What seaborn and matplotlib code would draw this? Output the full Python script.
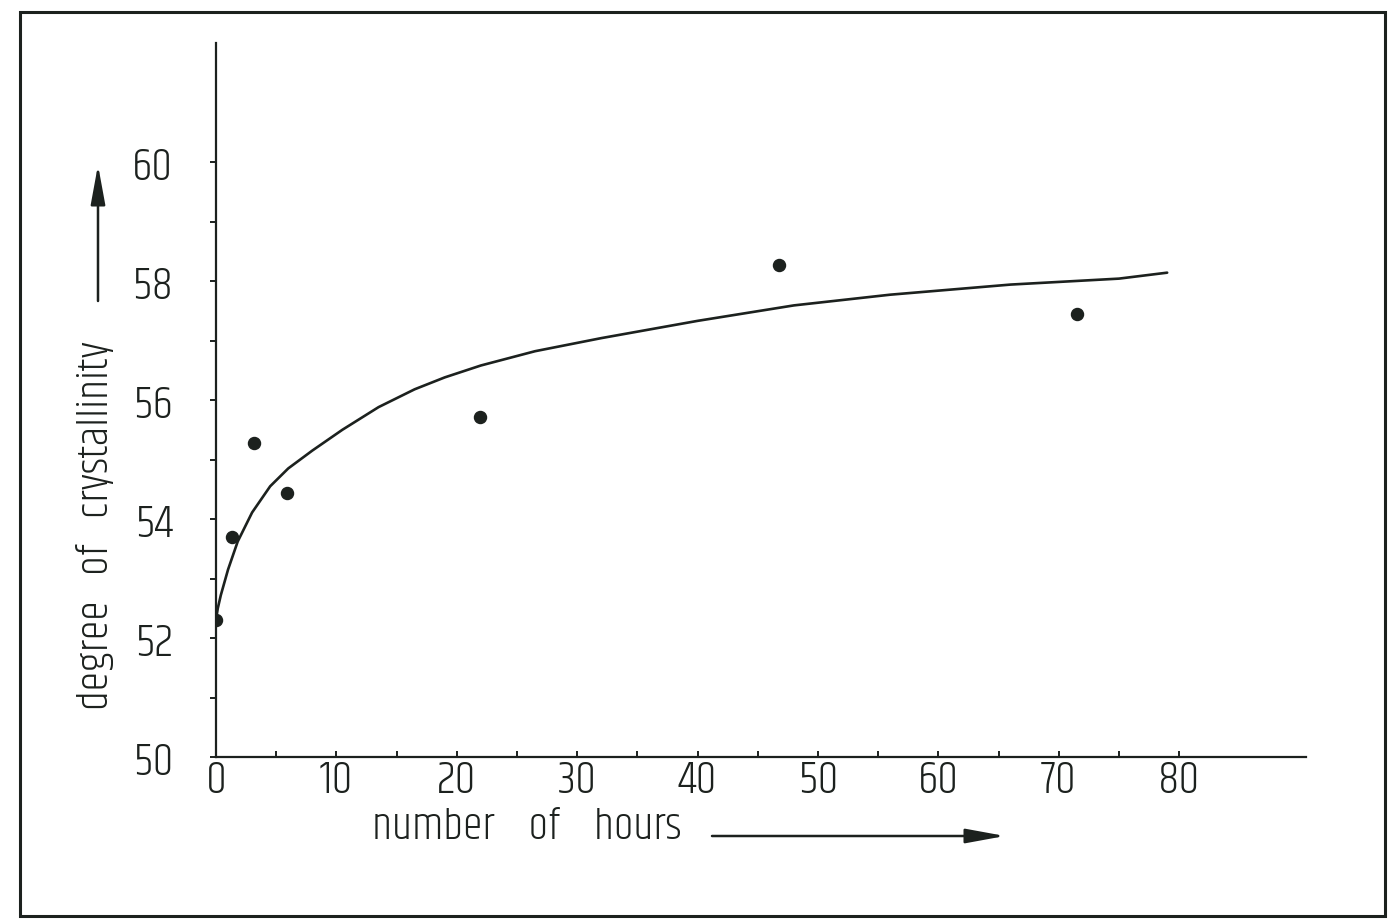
import matplotlib
matplotlib.use("Agg")
import matplotlib.pyplot as plt
from matplotlib.patches import Rectangle
import seaborn as sns
import pandas as pd

# measured crystallinity versus annealing time
hours = [0, 1.36, 3.18, 5.93, 21.9, 46.8, 71.5]
crystallinity = [52.31, 53.69, 55.27, 54.44, 55.72, 58.27, 57.45]

# hand-drawn trend curve through the measurements
curve_hours = [0, 0.15, 0.4, 1.0, 1.8, 3.0, 4.5, 6.0, 8.0, 10.5, 13.5, 16.5,
               19.0, 22.0, 26.5, 32.0, 40.0, 48.0, 56.0, 66.0, 75.0, 79.0]
curve_values = [52.31, 52.50, 52.72, 53.15, 53.62, 54.11, 54.55, 54.85, 55.15,
                55.50, 55.88, 56.18, 56.38, 56.58, 56.82, 57.04, 57.33, 57.59,
                57.77, 57.94, 58.04, 58.14]

x_major = [0, 10, 20, 30, 40, 50, 60, 70, 80]
x_minor = [5, 15, 25, 35, 45, 55, 65, 75]
y_major = [50, 52, 54, 56, 58, 60]
y_minor = [51, 53, 55, 57, 59]

x_label = "number    of    hours"
y_label = "degree   of   crystallinity"

INK = "#1c211e"
W, H = 1399, 920
FONT = ["Khand", "DejaVu Sans"]
FS_TICK = 34
FS_LABEL = 32

sns.set_theme(style="white")
plt.rcParams["font.family"] = FONT
plt.rcParams["font.weight"] = "light"
plt.rcParams["axes.labelweight"] = "light"
plt.rcParams["text.color"] = INK

fig = plt.figure(figsize=(W / 100, H / 100), dpi=100)
fig.patch.set_facecolor("white")

ax_left, ax_bottom_px, x_per_unit, y_per_unit = 216, 758, 12.04, 59.5
x_max, y_max = 90.5, 62.0
ax_w = x_max * x_per_unit
ax_h = (y_max - 50) * y_per_unit
ax = fig.add_axes([ax_left / W, 1 - ax_bottom_px / H, ax_w / W, ax_h / H])
ax.set_facecolor("white")

df_curve = pd.DataFrame({"h": curve_hours, "c": curve_values})
df_pts = pd.DataFrame({"h": hours, "c": crystallinity})

sns.lineplot(data=df_curve, x="h", y="c", ax=ax, color=INK, lw=1.9,
             sort=False, estimator=None)
sns.scatterplot(data=df_pts, x="h", y="c", ax=ax, color=INK, s=75,
                edgecolor=INK, linewidth=1.0, zorder=5)

ax.set_xlim(0, x_max)
ax.set_ylim(50, y_max)

for side in ("top", "right"):
    ax.spines[side].set_visible(False)
for side in ("left", "bottom"):
    ax.spines[side].set_color(INK)
    ax.spines[side].set_linewidth(1.6)

ax.set_xticks(x_major)
ax.set_xticks(x_minor, minor=True)
ax.set_yticks(y_major)
ax.set_yticks(y_minor, minor=True)
ax.set_xticklabels([str(v) for v in x_major], fontweight="light")
ax.set_yticklabels([str(v) for v in y_major], fontweight="light")

ax.tick_params(axis="x", which="both", direction="in", length=4, width=1.4,
               color=INK, bottom=True, labelsize=FS_TICK, pad=1, labelcolor=INK)
ax.tick_params(axis="y", which="both", direction="out", length=4, width=1.4,
               color=INK, left=True, labelsize=FS_TICK, pad=27, labelcolor=INK)

ax.set_xlabel(x_label, fontsize=FS_LABEL, color=INK, fontweight="light")
ax.xaxis.set_label_coords((527 - ax_left) / ax_w, (ax_bottom_px - 808) / ax_h)
ax.set_ylabel(y_label, fontsize=FS_LABEL, color=INK, fontweight="light")
ax.yaxis.set_label_coords((114 - ax_left) / ax_w, (ax_bottom_px - 526) / ax_h)

arrow_style = dict(arrowstyle="-|>,head_length=1.2,head_width=0.22",
                   mutation_scale=20, lw=1.8, color=INK,
                   shrinkA=0, shrinkB=0)
# arrow following the time axis label
ax.annotate("", xy=(1005 / W, 1 - 837 / H), xytext=(712 / W, 1 - 837 / H),
            xycoords="figure fraction", textcoords="figure fraction",
            arrowprops=arrow_style)
# arrow following the crystallinity label
ax.annotate("", xy=(98 / W, 1 - 166 / H), xytext=(98 / W, 1 - 302 / H),
            xycoords="figure fraction", textcoords="figure fraction",
            arrowprops=arrow_style)

# drawing-sheet border
fig.patches.append(Rectangle((20 / W, 3 / H), (1385 - 20) / W, (917 - 13) / H,
                             transform=fig.transFigure, fill=False,
                             lw=2.2, edgecolor=INK))

fig.savefig("out.png", dpi=100, facecolor="white")
